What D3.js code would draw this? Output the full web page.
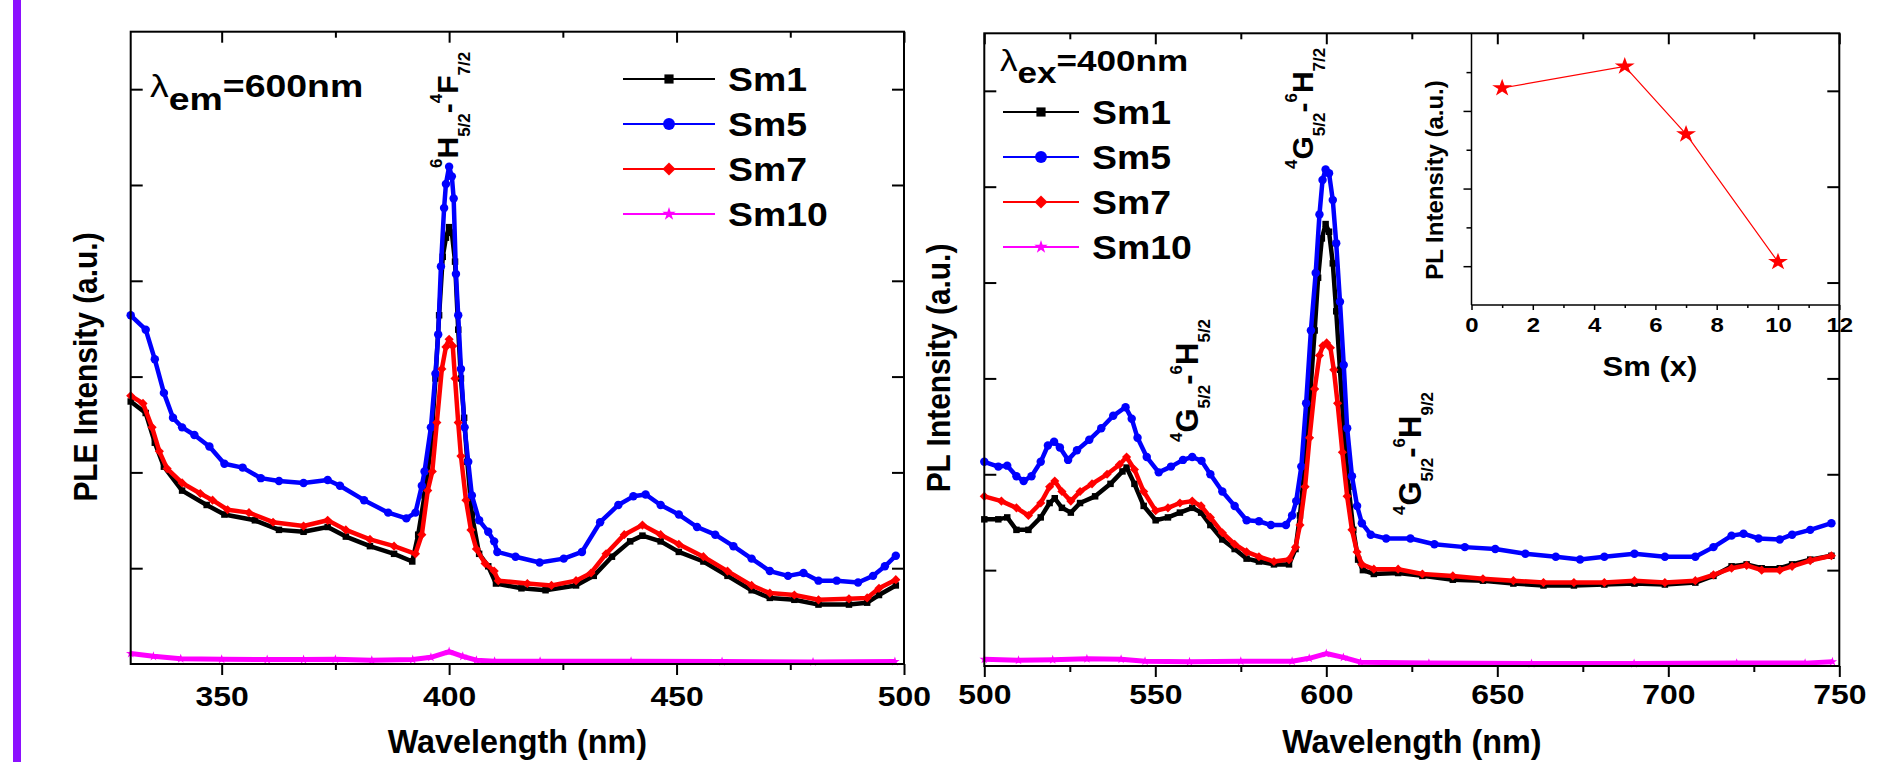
<!DOCTYPE html>
<html>
<head>
<meta charset="utf-8">
<script src="https://cdn.jsdelivr.net/npm/d3@7"></script>
<style>
  body { margin: 0; background: #fff; }
  svg { display: block; }
  text { font-family: "Liberation Sans", Arial, sans-serif; font-weight: bold; fill: #000; }
</style>
</head>
<body>
<svg id="chart"></svg>
<script>
// ---- data (intensity in tick units) ----
// left panel : excitation spectra, em = 600 nm  [wavelength, intensity]
const ple_sm1 = [[330,2.74],[333.3,2.62],[335.3,2.31],[337.3,2.06],[341.3,1.81],[346.7,1.66],[350.6,1.56],[357.3,1.5],[362.6,1.4],[368,1.38],[373.3,1.43],[377.3,1.33],[382.6,1.23],[387.9,1.15],[391.9,1.07],[393.2,1.35],[394.6,1.76],[396,2.27],[397,2.98],[397.8,3.64],[398.6,4.25],[399.3,4.45],[400,4.56],[400.6,4.5],[401.3,4.2],[402,3.49],[402.6,2.98],[403.3,2.57],[404,2.11],[405,1.56],[406.6,1.15],[408.6,1.02],[410.3,0.84],[415.9,0.79],[421.2,0.77],[427.9,0.82],[431.8,0.92],[435.8,1.12],[439.8,1.28],[442.5,1.34],[446.5,1.28],[450.5,1.17],[455.9,1.07],[461.2,0.92],[466.5,0.77],[470.5,0.69],[475.9,0.67],[481.2,0.62],[487.9,0.62],[491.9,0.64],[494.5,0.72],[498.2,0.82]];
const ple_sm5 = [[330,3.64],[333.3,3.49],[335.3,3.18],[337.3,2.83],[339.3,2.57],[341.3,2.47],[344,2.39],[347.3,2.27],[350.6,2.09],[354.6,2.05],[358.6,1.94],[362.6,1.91],[368,1.89],[373.3,1.92],[376,1.86],[381.3,1.71],[386.6,1.58],[390.6,1.52],[392.6,1.58],[394,1.86],[394.6,2.01],[396,2.47],[397,3.03],[397.6,3.44],[398.2,4.15],[398.9,4.76],[399.3,5.01],[400,5.19],[400.6,5.09],[401,4.86],[401.5,4.07],[402,3.64],[402.6,3.08],[403.4,2.47],[404.2,2.11],[405,1.76],[406.6,1.5],[408.6,1.38],[409.9,1.28],[410.6,1.17],[414.6,1.12],[419.9,1.06],[425.2,1.1],[429.2,1.17],[433.2,1.48],[437.2,1.66],[440.5,1.75],[443.2,1.77],[446.5,1.66],[450.5,1.56],[454.5,1.43],[458.5,1.35],[462.5,1.23],[466.5,1.1],[470.5,0.97],[474.5,0.92],[477.9,0.95],[481.2,0.87],[485.2,0.87],[489.9,0.85],[493.2,0.92],[495.8,1.02],[498.2,1.13]];
const ple_sm7 = [[330,2.8],[332.7,2.72],[334.7,2.47],[336.3,2.22],[338,2.04],[341.3,1.89],[345.3,1.78],[348,1.71],[351.3,1.61],[356,1.58],[361.3,1.48],[368,1.44],[373.3,1.5],[377.3,1.4],[382.6,1.3],[387.9,1.23],[392.6,1.15],[394,1.35],[395.3,1.81],[396.3,2.01],[397.3,2.52],[398.4,3.08],[399.3,3.31],[400,3.39],[400.8,3.32],[401.3,2.98],[402,2.52],[402.6,2.17],[403.7,1.71],[404.8,1.4],[406,1.2],[407.9,1.05],[409.9,0.97],[410.8,0.87],[417.2,0.84],[422.5,0.82],[427.9,0.87],[431.2,0.95],[434.5,1.15],[438.5,1.35],[442.5,1.45],[446.5,1.35],[450.5,1.25],[455.9,1.12],[461.2,0.97],[466.5,0.82],[470.5,0.74],[475.9,0.72],[481.2,0.67],[487.9,0.68],[491.9,0.69],[494.5,0.79],[498.2,0.88]];
const ple_sm10 = [[330,0.11],[335,0.08],[341,0.056],[350,0.05],[360,0.046],[368,0.046],[375,0.05],[383,0.04],[392,0.046],[396,0.07],[400,0.13],[403,0.08],[406,0.04],[410,0.03],[420,0.03],[440,0.028],[460,0.025],[480,0.022],[498,0.025]];

// right panel : emission spectra, ex = 400 nm
const pl_sm1 = [[500,1.53],[504.1,1.53],[506.7,1.55],[509.4,1.42],[512.9,1.42],[516.5,1.55],[519.1,1.7],[520.6,1.75],[522.7,1.65],[525.3,1.6],[528,1.7],[532.4,1.77],[536.9,1.9],[540.4,2.03],[541.6,2.07],[543.9,1.9],[546.6,1.67],[550.1,1.52],[553.7,1.55],[557.2,1.6],[560.8,1.65],[563.4,1.6],[566.1,1.47],[569.6,1.32],[573.2,1.22],[576.7,1.12],[580.3,1.09],[584.7,1.06],[589.1,1.06],[591,1.22],[592.3,1.57],[593.8,2.13],[595.1,2.74],[596.6,3.5],[597.6,4.05],[598.7,4.46],[599.8,4.61],[600.8,4.53],[601.9,4.2],[602.9,3.7],[604,3.09],[605.1,2.48],[606.5,1.87],[607.9,1.42],[609.3,1.11],[610.7,1.0],[613.9,0.96],[621,0.97],[628.1,0.94],[637,0.9],[645.8,0.89],[654.7,0.86],[663.5,0.84],[672.4,0.84],[681.3,0.85],[690.1,0.86],[699,0.85],[707.9,0.87],[713.2,0.94],[718.5,1.04],[722.9,1.06],[727.3,1.02],[732.6,1.02],[736.2,1.06],[741.5,1.11],[747.7,1.15]];
const pl_sm5 = [[500,2.13],[504.1,2.08],[506.7,2.09],[509.4,1.98],[511.5,1.93],[513.8,1.98],[516.5,2.13],[518.6,2.3],[520.4,2.34],[522.1,2.28],[524.5,2.15],[527.1,2.25],[530.7,2.36],[534.2,2.48],[537.7,2.61],[541.3,2.7],[543.1,2.58],[544.8,2.38],[547.5,2.18],[551,2.02],[554.6,2.08],[558.1,2.15],[560.8,2.18],[563.5,2.14],[566.1,2.0],[569.6,1.82],[573.2,1.67],[576.7,1.52],[580.3,1.51],[583.8,1.47],[588.2,1.47],[590,1.57],[591.2,1.72],[592.7,2.08],[594.1,2.74],[595.5,3.5],[596.9,4.1],[598,4.71],[598.9,5.07],[599.8,5.18],[600.8,5.14],[601.9,4.86],[602.9,4.41],[604,3.8],[605.1,3.14],[606.1,2.48],[607.5,1.98],[609,1.67],[610.4,1.49],[613,1.37],[617.5,1.33],[624.6,1.33],[631.6,1.27],[640.5,1.24],[649.4,1.22],[658.2,1.17],[667.1,1.14],[674.2,1.11],[681.3,1.14],[690.1,1.17],[699,1.14],[707.9,1.14],[713.2,1.24],[718.5,1.36],[722,1.38],[726.4,1.33],[732.6,1.32],[736.2,1.37],[741.5,1.42],[747.7,1.49]];
const pl_sm7 = [[500,1.77],[505,1.72],[509.4,1.65],[512.9,1.57],[516.5,1.7],[519.1,1.87],[520.6,1.93],[522.7,1.82],[525.3,1.72],[528,1.82],[531.5,1.9],[535.9,2.0],[539.5,2.1],[541.6,2.18],[543.9,2.05],[546.6,1.82],[550.1,1.62],[553.7,1.65],[557.2,1.7],[560.8,1.72],[563.4,1.67],[566.1,1.55],[569.6,1.39],[573.2,1.27],[576.7,1.19],[580.3,1.14],[584.7,1.09],[589.1,1.11],[591,1.24],[592.3,1.47],[593.8,1.87],[595.1,2.38],[596.6,2.89],[598,3.24],[599,3.34],[600.1,3.37],[601.2,3.32],[602.2,3.09],[603.3,2.74],[604.7,2.23],[606.1,1.77],[607.5,1.42],[609,1.19],[610.4,1.06],[613.9,1.01],[621,1.01],[628.1,0.96],[637,0.94],[645.8,0.91],[654.7,0.89],[663.5,0.87],[672.4,0.87],[681.3,0.87],[690.1,0.89],[699,0.87],[707.9,0.89],[713.2,0.95],[718.5,1.02],[722.9,1.05],[727.3,1.0],[732.6,1.0],[736.2,1.04],[741.5,1.1],[747.7,1.15]];
const pl_sm10 = [[500,0.07],[510,0.06],[520,0.065],[530,0.075],[540,0.07],[547,0.05],[560,0.045],[575,0.05],[590,0.05],[595,0.08],[600,0.13],[605,0.09],[610,0.04],[630,0.03],[660,0.025],[690,0.025],[720,0.03],[740,0.03],[748,0.045]];

// inset : peak PL vs Sm content
const inset_sm = [1, 5, 7, 10];
const inset_int = [5.59, 6.15, 4.40, 1.11];

const series_names = ["Sm1", "Sm5", "Sm7", "Sm10"];
const ple_ticks = [350, 400, 450, 500];
const ple_minor = [375, 425, 475];
const pl_ticks = [500, 550, 600, 650, 700, 750];
const pl_minor = [525, 575, 625, 675, 725];
const inset_ticks = [0, 2, 4, 6, 8, 10, 12];

// ---- look ----
const S = 1.14; // tick labels are a bit wider than plain Arial
const colors = ["#000000", "#0000ff", "#ff0000", "#ff00ff"];
const shapes = [d3.symbolSquare, d3.symbolCircle, d3.symbolSquare, d3.symbolStar];
const sizes = [42, 56, 42, 28];
const rots = [0, 0, 45, 0];

let svg = d3.select("#chart").attr("width", 1899).attr("height", 762);

// purple bar on the far left
svg.append("rect").attr("x", 13).attr("y", 0).attr("width", 8).attr("height", 762).attr("fill", "#8c10ff");

// text with sub / superscripts; sx scales along the text direction
function rich(g, x, y, parts, size, o) {
  o = o || {};
  let t = g.append("text")
    .attr("transform", `translate(${x},${y})` + (o.rot ? " rotate(-90)" : "") + ` scale(${o.sx || 1},1)`)
    .attr("font-size", size)
    .attr("text-anchor", o.anchor || "start");
  parts.forEach(function (p) {
    t.append("tspan").text(p.t)
      .attr("dy", p.dy || 0)
      .attr("font-size", p.fs || null)
      .attr("font-weight", p.fw || null);
  });
  return t;
}

function transition_label(a, b, c, d) {
  // ^a B _5/2 - ^c D _d
  return [
    { t: a, fs: 17, dy: -16 }, { t: b, dy: 16 }, { t: "5/2", fs: 17, dy: 12 },
    { t: "-", dy: -12 }, { t: c, fs: 17, dy: -16 }, { t: d[0], dy: 16 }, { t: d[1], fs: 17, dy: 12 }
  ];
}

function draw_panel(p) {
  let x = d3.scaleLinear().domain(p.xdom).range([p.x0, p.x1]);
  let y = d3.scaleLinear().domain([0, 6.6]).range([p.y1, p.y0]);
  let g = svg.append("g");

  // curves
  p.data.forEach(function (data, i) {
    let line = d3.line().x(d => x(d[0])).y(d => y(d[1]));
    g.append("path").datum(data).attr("d", line)
      .attr("fill", "none").attr("stroke", colors[i]).attr("stroke-width", i == 3 ? 5 : 4.5)
      .attr("stroke-linejoin", "round");
    g.selectAll(null).data(data).enter().append("path")
      .attr("d", d3.symbol().type(shapes[i]).size(sizes[i]))
      .attr("transform", d => `translate(${x(d[0])},${y(d[1])}) rotate(${rots[i]})`)
      .attr("fill", colors[i]);
  });

  // legend
  series_names.forEach(function (name, i) {
    let ly = p.leg_y + i * 45;
    g.append("line").attr("x1", p.leg_x).attr("x2", p.leg_x + p.leg_len).attr("y1", ly).attr("y2", ly)
      .attr("stroke", colors[i]).attr("stroke-width", 2);
    g.append("path").attr("d", d3.symbol().type(shapes[i]).size(sizes[i] * 2))
      .attr("transform", `translate(${p.leg_x + p.leg_len / 2},${ly}) rotate(${rots[i]})`).attr("fill", colors[i]);
    rich(g, p.leg_tx, ly + 12, [{ t: name }], 34, { sx: 1.1 });
  });

  return { x: x, y: y, g: g };
}

function draw_frame(p, sc) {
  let g = svg.append("g");
  function style(a, labels) {
    a.select(".domain").remove();
    a.selectAll(".tick line").attr("stroke", "#000").attr("stroke-width", 2);
    a.attr("font-size", 28).attr("font-family", null);
    if (labels) a.selectAll(".tick text").attr("transform", `scale(${S},1)`).attr("fill", "#000");
  }
  g.append("g").attr("transform", `translate(0,${p.y1})`)
    .call(d3.axisBottom(sc.x).tickValues(p.ticks).tickSize(11).tickPadding(p.pad).tickFormat(d3.format("d")))
    .call(a => style(a, true));
  g.append("g").attr("transform", `translate(0,${p.y1})`)
    .call(d3.axisBottom(sc.x).tickValues(p.minor).tickSize(6).tickFormat(""))
    .call(a => style(a, false));
  g.append("g").attr("transform", `translate(0,${p.y0})`)
    .call(d3.axisBottom(sc.x).tickValues(p.ticks).tickSize(11).tickFormat(""))
    .call(a => style(a, false));
  g.append("g").attr("transform", `translate(0,${p.y0})`)
    .call(d3.axisBottom(sc.x).tickValues(p.minor).tickSize(6).tickFormat(""))
    .call(a => style(a, false));
  g.append("g").attr("transform", `translate(${p.x0},0)`)
    .call(d3.axisRight(sc.y).tickValues([1, 2, 3, 4, 5, 6]).tickSize(12).tickFormat(""))
    .call(a => style(a, false));
  g.append("g").attr("transform", `translate(${p.x1},0)`)
    .call(d3.axisLeft(sc.y).tickValues([1, 2, 3, 4, 5, 6]).tickSize(12).tickFormat(""))
    .call(a => style(a, false));
  g.append("rect").attr("x", p.x0).attr("y", p.y0).attr("width", p.x1 - p.x0).attr("height", p.y1 - p.y0)
    .attr("fill", "none").attr("stroke", "#000").attr("stroke-width", 2);

  // axis titles
  rich(g, (p.x0 + p.x1) / 2, 753, [{ t: "Wavelength (nm)" }], 33, { anchor: "middle", sx: 0.98 });
  rich(g, p.ylab_x, p.ylab_y, [{ t: p.ylab }], 34, { rot: true, anchor: "middle", sx: 0.88 });
}

// ---- left panel ----
let P1 = {
  x0: 130.7, x1: 904, y0: 31.7, y1: 664, xdom: [330, 500],
  ticks: ple_ticks, minor: ple_minor, pad: 11,
  data: [ple_sm1, ple_sm5, ple_sm7, ple_sm10],
  leg_x: 623, leg_len: 92, leg_tx: 728, leg_y: 79,
  ylab: "PLE Intensity (a.u.)", ylab_x: 97, ylab_y: 367
};
let s1 = draw_panel(P1);
rich(s1.g, 150, 97, [{ t: "λ", fw: "normal" }, { t: "em", dy: 13 }, { t: "=600nm", dy: -13 }], 32, { sx: 1.17 });
rich(s1.g, 458, 168, transition_label("6", "H", "4", ["F", "7/2"]), 30, { rot: true });
draw_frame(P1, s1);

// ---- right panel ----
let P2 = {
  x0: 984.3, x1: 1839.3, y0: 33.3, y1: 666, xdom: [500, 750],
  ticks: pl_ticks, minor: pl_minor, pad: 7,
  data: [pl_sm1, pl_sm5, pl_sm7, pl_sm10],
  leg_x: 1003, leg_len: 76, leg_tx: 1092, leg_y: 112,
  ylab: "PL Intensity (a.u.)", ylab_x: 950, ylab_y: 368
};
let s2 = draw_panel(P2);
rich(s2.g, 1000, 71, [{ t: "λ", fw: "normal" }, { t: "ex", dy: 12 }, { t: "=400nm", dy: -12 }], 30, { sx: 1.17 });
rich(s2.g, 1313, 169, transition_label("4", "G", "6", ["H", "7/2"]), 30, { rot: true });
rich(s2.g, 1198, 442, transition_label("4", "G", "6", ["H", "5/2"]), 31, { rot: true });
rich(s2.g, 1421, 515, transition_label("4", "G", "6", ["H", "9/2"]), 31, { rot: true });

// ---- inset ----
let I = { x0: 1471.5, x1: 1839.3, y0: 33.3, y1: 305 };
let ix = d3.scaleLinear().domain([0, 12]).range([I.x0, I.x1]);
let iy = d3.scaleLinear().domain([0, 7]).range([I.y1, I.y0]);
let ig = svg.append("g");
ig.append("rect").attr("x", I.x0).attr("y", I.y0).attr("width", I.x1 - I.x0).attr("height", I.y1 - I.y0).attr("fill", "#fff");

let pts = inset_sm.map((v, i) => [v, inset_int[i]]);
ig.append("path").datum(pts)
  .attr("d", d3.line().x(d => ix(d[0])).y(d => iy(d[1])))
  .attr("fill", "none").attr("stroke", "#ff0000").attr("stroke-width", 1.2);
ig.selectAll(null).data(pts).enter().append("path")
  .attr("d", d3.symbol().type(d3.symbolStar).size(95))
  .attr("transform", d => `translate(${ix(d[0])},${iy(d[1])}) scale(${S},1)`)
  .attr("fill", "#ff0000");

function istyle(a, labels) {
  a.select(".domain").remove();
  a.selectAll(".tick line").attr("stroke", "#000").attr("stroke-width", 1.5);
  a.attr("font-size", 21).attr("font-family", null);
  if (labels) a.selectAll(".tick text").attr("transform", `scale(${S},1)`).attr("fill", "#000");
}
ig.append("g").attr("transform", `translate(0,${I.y1})`)
  .call(d3.axisBottom(ix).tickValues(inset_ticks).tickSize(5).tickPadding(7).tickFormat(d3.format("d")))
  .call(a => istyle(a, true));
ig.append("g").attr("transform", `translate(0,${I.y1})`)
  .call(d3.axisBottom(ix).tickValues([1, 3, 5, 7, 9, 11]).tickSize(3).tickFormat(""))
  .call(a => istyle(a, false));
ig.append("g").attr("transform", `translate(${I.x0},0)`)
  .call(d3.axisLeft(iy).tickValues([1, 3, 5]).tickSize(8).tickFormat(""))
  .call(a => istyle(a, false));
ig.append("g").attr("transform", `translate(${I.x0},0)`)
  .call(d3.axisLeft(iy).tickValues([2, 4, 6]).tickSize(5).tickFormat(""))
  .call(a => istyle(a, false));
ig.append("line").attr("x1", I.x0).attr("x2", I.x1).attr("y1", I.y1).attr("y2", I.y1).attr("stroke", "#000").attr("stroke-width", 1.5);
ig.append("line").attr("x1", I.x0).attr("x2", I.x0).attr("y1", I.y0).attr("y2", I.y1).attr("stroke", "#000").attr("stroke-width", 1.5);
rich(ig, 1650, 376, [{ t: "Sm (x)" }], 27, { anchor: "middle", sx: 1.15 });
rich(ig, 1443, 180, [{ t: "PL Intensity (a.u.)" }], 24, { rot: true, anchor: "middle" });

draw_frame(P2, s2);
</script>
</body>
</html>
